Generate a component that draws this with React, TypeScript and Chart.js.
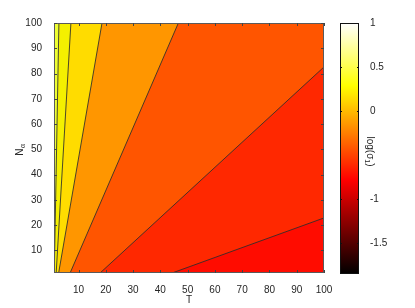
import React, { useEffect, useRef } from "react";
import { Chart, registerables } from "chart.js";

Chart.register(...registerables);

// ---- data ----
const T_MIN = 1;
const T_MAX = 100;
const N_MIN = 1;
const N_MAX = 100;
const xTickValues = [10, 20, 30, 40, 50, 60, 70, 80, 90, 100];
const yTickValues = [10, 20, 30, 40, 50, 60, 70, 80, 90, 100];
const cbMin = -1.85;
const cbMax = 1;
const cbTickValues = [-1.5, -1, 0, 0.5, 1];

// contour lines (T, N), from the bottom/left edge to the top/right edge
const contourA = [{ x: 1.1, y: 1 }, { x: 2.8, y: 100 }];
const contourB = [{ x: 1.8, y: 1 }, { x: 7.2, y: 100 }];
const contourC = [{ x: 2.7, y: 1 }, { x: 18.6, y: 100 }];
const contourD = [{ x: 6.9, y: 1 }, { x: 46.6, y: 100 }];
const contourE = [{ x: 17.9, y: 1 }, { x: 100, y: 82.6 }];
const contourF = [{ x: 44.3, y: 1 }, { x: 100, y: 22.8 }];
const contours = [contourA, contourB, contourC, contourD, contourE, contourF];
// colour of region left of each contour; last = region right of the last contour
const regionColors = ["#eeff33", "#f4f000", "#ffdc00", "#ff9600", "#ff5500", "#ff2800", "#ff0c00"];

const FONT = '"Liberation Sans", Arial, Helvetica, sans-serif';

function leftSide(line: { x: number; y: number }[]) {
  const pts = line.map((p) => ({ x: p.x, y: p.y }));
  const end = pts[pts.length - 1];
  if (end.x >= T_MAX && end.y < N_MAX) pts.push({ x: T_MAX, y: N_MAX });
  pts.push({ x: T_MIN, y: N_MAX });
  pts.push({ x: T_MIN, y: N_MIN });
  return pts;
}

function hot(t: number) {
  const c = (v: number) => Math.max(0, Math.min(1, v));
  const r = c(t / 0.375);
  const g = c((t - 0.375) / 0.375);
  const b = c((t - 0.75) / 0.25);
  return `rgb(${Math.round(r * 255)},${Math.round(g * 255)},${Math.round(b * 255)})`;
}

const framePlugin = {
  id: "frame",
  afterDraw(chart: any) {
    const { ctx, chartArea, scales } = chart;
    const { left, top, right, bottom } = chartArea;
    ctx.save();
    ctx.strokeStyle = "#5a5a5a";
    ctx.lineWidth = 1;
    ctx.strokeRect(left + 0.5, top + 0.5, right - left - 1, bottom - top - 1);
    ctx.strokeStyle = "#444";
    ctx.beginPath();
    for (const v of xTickValues) {
      const px = Math.round(scales.x.getPixelForValue(v)) + 0.5;
      ctx.moveTo(px, bottom);
      ctx.lineTo(px, bottom - 3);
      ctx.moveTo(px, top);
      ctx.lineTo(px, top + 3);
    }
    for (const v of yTickValues) {
      const py = Math.round(scales.y.getPixelForValue(v)) + 0.5;
      ctx.moveTo(left, py);
      ctx.lineTo(left + 3, py);
      ctx.moveTo(right, py);
      ctx.lineTo(right - 3, py);
    }
    ctx.stroke();

    // axis titles
    ctx.fillStyle = "#262626";
    ctx.font = `10px ${FONT}`;
    ctx.textAlign = "center";
    ctx.textBaseline = "middle";
    ctx.fillText("T", (left + right) / 2, 300);

    ctx.translate(20.5, (top + bottom) / 2 + 2);
    ctx.rotate(-Math.PI / 2);
    ctx.textAlign = "left";
    ctx.font = `10px ${FONT}`;
    const wN = ctx.measureText("N").width;
    ctx.font = `7px ${FONT}`;
    const wA = ctx.measureText("α").width;
    const x0 = -(wN + wA) / 2;
    ctx.font = `10px ${FONT}`;
    ctx.fillText("N", x0, 0);
    ctx.font = `7px ${FONT}`;
    ctx.fillText("α", x0 + wN + 0.5, 3);
    ctx.restore();
  },
};

const colorbarPlugin = {
  id: "colorbar",
  beforeDatasetsDraw(chart: any) {
    const { ctx, chartArea, scales } = chart;
    const { left, right, top, bottom } = chartArea;
    const y = scales.y;
    const y0 = y.getPixelForValue(cbMin);
    const y1 = y.getPixelForValue(cbMax);
    const grad = ctx.createLinearGradient(0, y0, 0, y1);
    for (let i = 0; i <= 64; i++) grad.addColorStop(i / 64, hot(i / 64));
    ctx.save();
    ctx.fillStyle = grad;
    ctx.fillRect(left, top, right - left, bottom - top);
    ctx.strokeStyle = "#111";
    ctx.lineWidth = 1;
    ctx.strokeRect(left + 0.5, top + 0.5, right - left - 1, bottom - top - 1);
    ctx.beginPath();
    for (const v of cbTickValues) {
      const py = Math.round(y.getPixelForValue(v)) + 0.5;
      ctx.moveTo(left, py);
      ctx.lineTo(left + 2, py);
      ctx.moveTo(right, py);
      ctx.lineTo(right - 2, py);
    }
    ctx.stroke();

    // colorbar label, rotated clockwise
    ctx.fillStyle = "#262626";
    ctx.translate(right + 11, (top + bottom) / 2 + 3);
    ctx.rotate(Math.PI / 2);
    ctx.textBaseline = "middle";
    ctx.textAlign = "left";
    ctx.font = `10px ${FONT}`;
    const w1 = ctx.measureText("log(σ").width;
    const w3 = ctx.measureText(")").width;
    ctx.font = `7px ${FONT}`;
    const w2 = ctx.measureText("1").width;
    const x0 = -(w1 + w2 + w3) / 2;
    ctx.font = `10px ${FONT}`;
    ctx.fillText("log(σ", x0, 0);
    ctx.font = `7px ${FONT}`;
    ctx.fillText("1", x0 + w1, 3);
    ctx.font = `10px ${FONT}`;
    ctx.fillText(")", x0 + w1 + w2, 0);
    ctx.restore();
  },
};

export default function App() {
  const mainRef = useRef<HTMLCanvasElement | null>(null);
  const cbRef = useRef<HTMLCanvasElement | null>(null);

  useEffect(() => {
    const datasets: any[] = [];
    datasets.push({
      data: [
        { x: T_MIN, y: N_MIN },
        { x: T_MAX, y: N_MIN },
        { x: T_MAX, y: N_MAX },
        { x: T_MIN, y: N_MAX },
      ],
      backgroundColor: regionColors[regionColors.length - 1],
      borderWidth: 0,
      fill: "shape",
      pointRadius: 0,
      order: 30,
    });
    contours.forEach((line, i) => {
      datasets.push({
        data: leftSide(line),
        backgroundColor: regionColors[i],
        borderWidth: 0,
        fill: "shape",
        pointRadius: 0,
        order: 10 + i,
      });
    });
    contours.forEach((line) => {
      datasets.push({
        data: line,
        borderColor: "rgba(45,45,45,0.85)",
        borderWidth: 1,
        fill: false,
        pointRadius: 0,
        order: 0,
      });
    });

    const tickFont = { family: FONT, size: 10 };
    const main = new Chart(mainRef.current as HTMLCanvasElement, {
      type: "line",
      data: { datasets },
      options: {
        animation: false,
        responsive: false,
        devicePixelRatio: 1,
        events: [],
        layout: { padding: { left: 0, top: 23, right: 91, bottom: 0 } },
        plugins: { legend: { display: false }, tooltip: { enabled: false } },
        scales: {
          x: {
            type: "linear",
            min: T_MIN,
            max: T_MAX,
            grid: { display: false },
            border: { display: false },
            afterBuildTicks: (s: any) => {
              s.ticks = xTickValues.map((v) => ({ value: v }));
            },
            afterFit: (s: any) => {
              s.height = 35;
            },
            ticks: { font: tickFont, color: "#262626", padding: 3, maxRotation: 0, autoSkip: false },
          },
          y: {
            type: "linear",
            min: N_MIN,
            max: N_MAX,
            grid: { display: false },
            border: { display: false },
            afterBuildTicks: (s: any) => {
              s.ticks = yTickValues.map((v) => ({ value: v }));
            },
            afterFit: (s: any) => {
              s.width = 54;
            },
            ticks: { font: tickFont, color: "#262626", padding: 4, autoSkip: false },
          },
        },
      } as any,
      plugins: [framePlugin],
    });

    const cb = new Chart(cbRef.current as HTMLCanvasElement, {
      type: "line",
      data: { datasets: [] },
      options: {
        animation: false,
        responsive: false,
        devicePixelRatio: 1,
        events: [],
        layout: { padding: { left: 10, top: 23, right: 0, bottom: 34 } },
        plugins: { legend: { display: false }, tooltip: { enabled: false } },
        scales: {
          x: { type: "linear", display: false, min: 0, max: 1 },
          y: {
            type: "linear",
            position: "right",
            min: cbMin,
            max: cbMax,
            grid: { display: false },
            border: { display: false },
            afterBuildTicks: (s: any) => {
              s.ticks = cbTickValues.map((v) => ({ value: v }));
            },
            afterFit: (s: any) => {
              s.width = 56;
            },
            ticks: { font: tickFont, color: "#262626", padding: 3, autoSkip: false },
          },
        },
      } as any,
      plugins: [colorbarPlugin],
    });

    return () => {
      main.destroy();
      cb.destroy();
    };
  }, []);

  return (
    <div style={{ position: "fixed", left: 0, top: 0, width: 415, height: 308, background: "#fff" }}>
      <canvas
        ref={mainRef}
        width={415}
        height={308}
        style={{ position: "absolute", left: 0, top: 0, width: 415, height: 308 }}
      />
      <canvas
        ref={cbRef}
        width={85}
        height={308}
        style={{ position: "absolute", left: 330, top: 0, width: 85, height: 308 }}
      />
    </div>
  );
}
